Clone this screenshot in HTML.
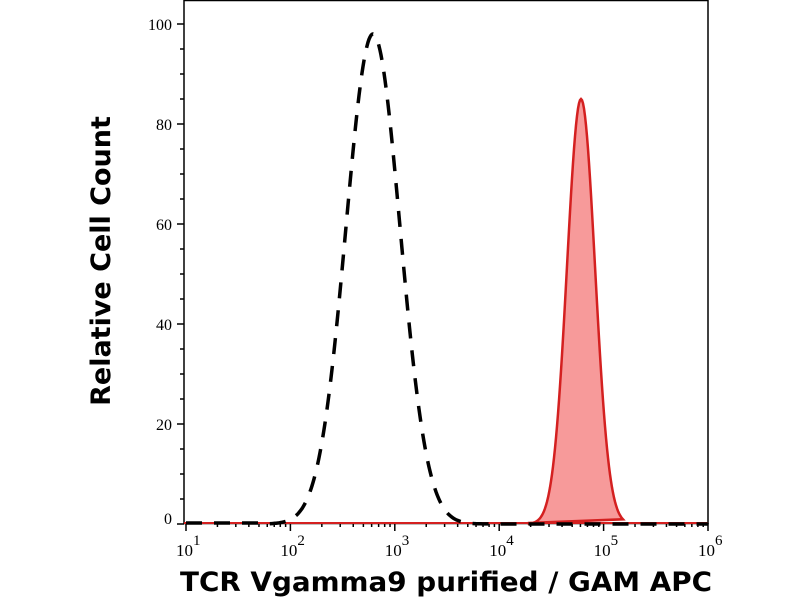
<!DOCTYPE html>
<html><head><style>
html,body{margin:0;padding:0;background:#fff;width:800px;height:600px;overflow:hidden}
</style></head><body>
<svg id="s" width="800" height="600" xmlns="http://www.w3.org/2000/svg" font-family="Liberation Serif, serif">
<rect x="184" y="0.5" width="524" height="523" fill="none" stroke="#000" stroke-width="1.5"/>
<g id="ticks" stroke="#000" stroke-width="1.5"></g>
<g font-size="16" text-anchor="end" fill="#000">
<text x="172" y="30">100</text>
<text x="172" y="130">80</text>
<text x="172" y="230">60</text>
<text x="172" y="330">40</text>
<text x="172" y="430">20</text>
<text x="172" y="524">0</text>
</g>
<g id="xl" font-size="17" fill="#000"></g>
<path id="red" fill="#f79a9a" stroke="#d42020" stroke-width="2.5"/>
<line x1="184" y1="523" x2="708" y2="523" stroke="#d42020" stroke-width="2"/>
<path id="dash" fill="none" stroke="#000" stroke-width="3.5" stroke-dasharray="16,12"/>
<text transform="translate(110,261) rotate(-90)" text-anchor="middle" font-family="DejaVu Sans, sans-serif" font-weight="bold" font-size="27">Relative Cell Count</text>
<text x="446" y="591" text-anchor="middle" font-family="DejaVu Sans, sans-serif" font-weight="bold" font-size="27" textLength="532" lengthAdjust="spacingAndGlyphs">TCR Vgamma9 purified / GAM APC</text>
</svg>
<script>
var NS="http://www.w3.org/2000/svg",t=document.getElementById('ticks'),xl=document.getElementById('xl');
function L(x1,y1,x2,y2){var l=document.createElementNS(NS,'line');l.setAttribute('x1',x1);l.setAttribute('y1',y1);l.setAttribute('x2',x2);l.setAttribute('y2',y2);t.appendChild(l);}
for(var v=0;v<=100;v+=5){var y=524-v*5;L(v%20==0?177:180,y,184,y);}
var x0=186,d=104.4;
for(var k=1;k<=6;k++){var x=x0+(k-1)*d;L(x,523,x,531);
 var tx=document.createElementNS(NS,'text');tx.setAttribute('x',x-10);tx.setAttribute('y',556);tx.innerHTML='10<tspan font-size="15" dy="-11">'+k+'</tspan>';xl.appendChild(tx);
 if(k<6)for(var m=2;m<10;m++){var xm=x+Math.log10(m)*d;L(xm,523,xm,527);}}
function g(c,s,h,a,b){var p='';for(var x=a;x<=b;x+=1){var z=(x-c)/s;var v=h*Math.exp(-z*z/2);p+=(p?'L':'M')+x+','+(524-v*5).toFixed(1);}return p;}
document.getElementById('red').setAttribute('d',g(581,14,85,529,623)+'L529,523Z');
document.getElementById('dash').setAttribute('d','M186,523L268,523'+g(373,27,98,269,708).replace('M','L'));
</script>
</body></html>
